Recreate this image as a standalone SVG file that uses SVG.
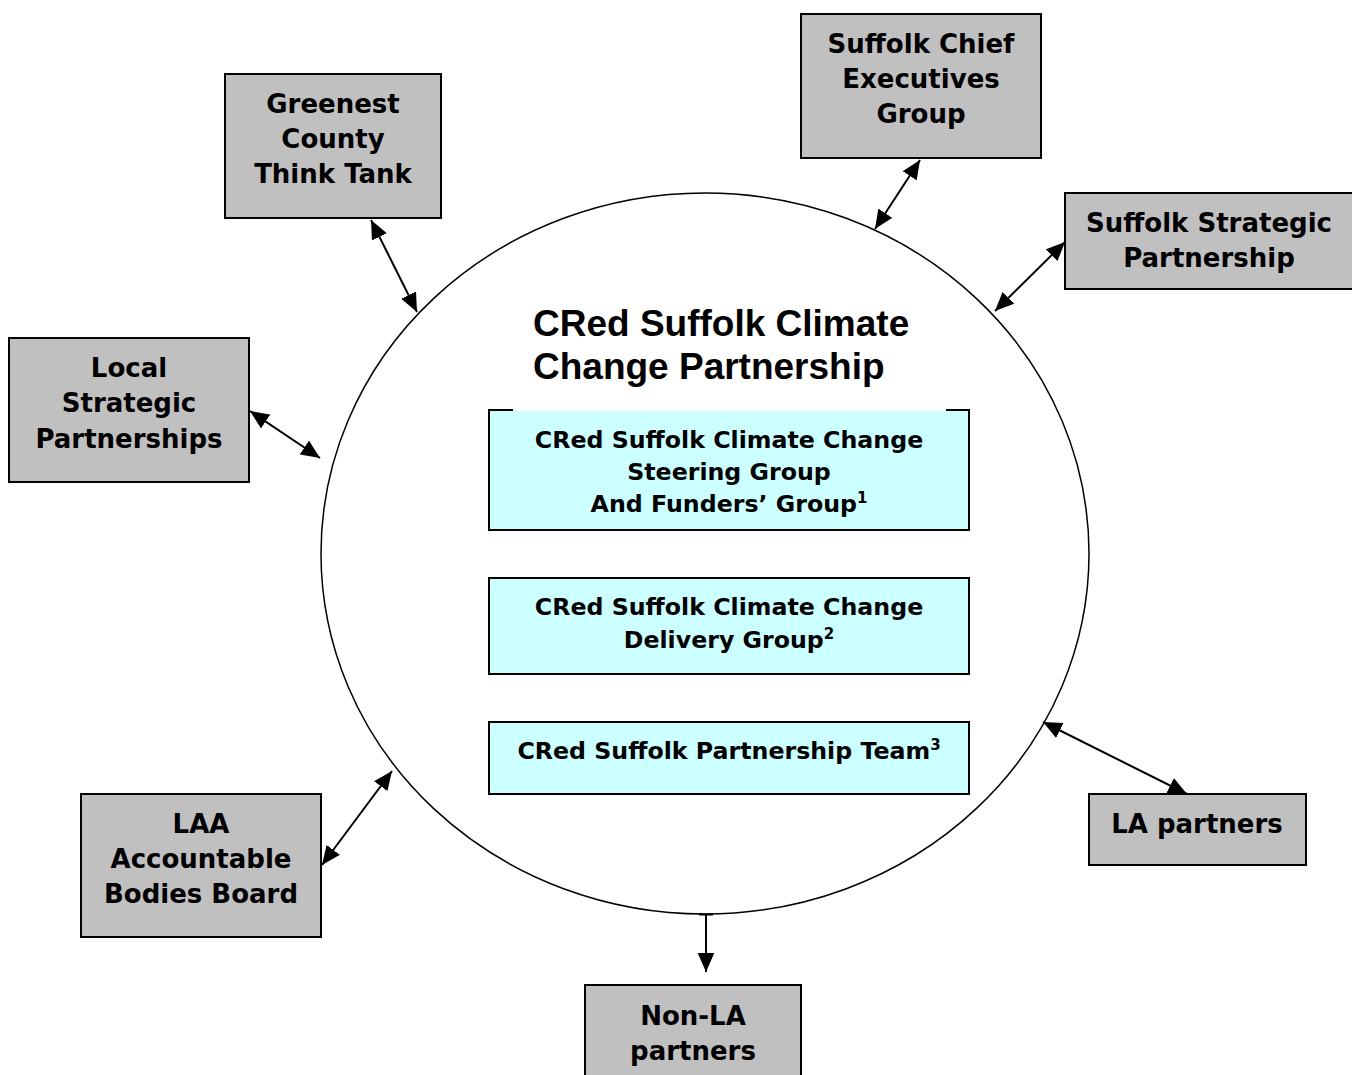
<svg xmlns="http://www.w3.org/2000/svg" width="1352" height="1075" viewBox="0 0 1352 1075">
  <style>
    .ext { fill: #c0c0c0; stroke: #000; stroke-width: 2; }
    .grp { fill: #ccffff; stroke: #000; stroke-width: 2; }
    .lbl { font-family: "DejaVu Sans", Verdana, sans-serif; font-weight: bold; font-size: 26px; fill: #000; text-anchor: middle; }
    .in { font-family: "DejaVu Sans", Verdana, sans-serif; font-weight: bold; font-size: 23.7px; fill: #000; text-anchor: middle; }
    .sup { font-size: 15px; }
    .title { font-family: "Liberation Sans", Arial, sans-serif; font-weight: bold; font-size: 37px; fill: #000; }
    .link { stroke: #000; stroke-width: 2; fill: none; }
  </style>
  <defs>
    <marker id="head" markerUnits="userSpaceOnUse" markerWidth="20" markerHeight="18" refX="17" refY="7.5" orient="auto-start-reverse" viewBox="0 0 18 15">
      <path d="M0,0 L17,7.5 L0,15 Z" fill="#000"/>
    </marker>
  </defs>

  <rect width="1352" height="1075" fill="#fff"/>

  <!-- partnership circle -->
  <g id="partnership">
    <ellipse cx="705" cy="553.5" rx="384" ry="360.5" fill="#fff" stroke="#000" stroke-width="1.5"/>
    <text class="title" x="533" y="336">CRed Suffolk Climate</text>
    <text class="title" x="533" y="379">Change Partnership</text>
  </g>

  <g id="steering-group">
    <rect class="grp" x="489" y="410" width="480" height="120"/>
    <rect x="513" y="407" width="433" height="4" fill="#fff"/>
    <text class="in" x="729" y="448">CRed Suffolk Climate Change</text>
    <text class="in" x="729" y="480">Steering Group</text>
    <text class="in" x="729" y="512">And Funders’ Group<tspan class="sup" dy="-9">1</tspan></text>
  </g>

  <g id="delivery-group">
    <rect class="grp" x="489" y="578" width="480" height="96"/>
    <text class="in" x="729" y="615">CRed Suffolk Climate Change</text>
    <text class="in" x="729" y="648">Delivery Group<tspan class="sup" dy="-9">2</tspan></text>
  </g>

  <g id="partnership-team">
    <rect class="grp" x="489" y="722" width="480" height="72"/>
    <text class="in" x="729" y="759">CRed Suffolk Partnership Team<tspan class="sup" dy="-9">3</tspan></text>
  </g>

  <!-- outside bodies -->
  <g id="think-tank">
    <rect class="ext" x="225" y="74" width="216" height="144"/>
    <text class="lbl" x="333" y="113">Greenest</text>
    <text class="lbl" x="333" y="148">County</text>
    <text class="lbl" x="333" y="183">Think Tank</text>
  </g>

  <g id="chief-executives">
    <rect class="ext" x="801" y="14" width="240" height="144"/>
    <text class="lbl" x="921" y="53">Suffolk Chief</text>
    <text class="lbl" x="921" y="88">Executives</text>
    <text class="lbl" x="921" y="123">Group</text>
  </g>

  <g id="strategic-partnership">
    <rect class="ext" x="1065" y="193" width="290" height="96"/>
    <text class="lbl" x="1209" y="232">Suffolk Strategic</text>
    <text class="lbl" x="1209" y="267">Partnership</text>
  </g>

  <g id="local-strategic">
    <rect class="ext" x="9" y="338" width="240" height="144"/>
    <text class="lbl" x="129" y="377">Local</text>
    <text class="lbl" x="129" y="412">Strategic</text>
    <text class="lbl" x="129" y="448">Partnerships</text>
  </g>

  <g id="laa-board">
    <rect class="ext" x="81" y="794" width="240" height="143"/>
    <text class="lbl" x="201" y="833">LAA</text>
    <text class="lbl" x="201" y="868">Accountable</text>
    <text class="lbl" x="201" y="903">Bodies Board</text>
  </g>

  <g id="la-partners">
    <rect class="ext" x="1089" y="794" width="217" height="71"/>
    <text class="lbl" x="1197" y="833">LA partners</text>
  </g>

  <g id="non-la-partners">
    <rect class="ext" x="585" y="985" width="216" height="100"/>
    <text class="lbl" x="693" y="1025">Non-LA</text>
    <text class="lbl" x="693" y="1060">partners</text>
  </g>

  <!-- connectors -->
  <g id="connectors">
    <line class="link" x1="371" y1="220" x2="417" y2="312" marker-start="url(#head)" marker-end="url(#head)"/>
    <line class="link" x1="920" y1="160" x2="875" y2="229" marker-start="url(#head)" marker-end="url(#head)"/>
    <line class="link" x1="1065" y1="242" x2="995" y2="311" marker-start="url(#head)" marker-end="url(#head)"/>
    <line class="link" x1="250" y1="411" x2="320" y2="458" marker-start="url(#head)" marker-end="url(#head)"/>
    <line class="link" x1="1043" y1="722" x2="1187" y2="794" marker-start="url(#head)" marker-end="url(#head)"/>
    <line class="link" x1="322" y1="865" x2="392" y2="771" marker-start="url(#head)" marker-end="url(#head)"/>
    <line class="link" x1="699" y1="914.5" x2="713" y2="914.5"/>
    <line class="link" x1="706" y1="915" x2="706" y2="972" marker-end="url(#head)"/>
  </g>
</svg>
